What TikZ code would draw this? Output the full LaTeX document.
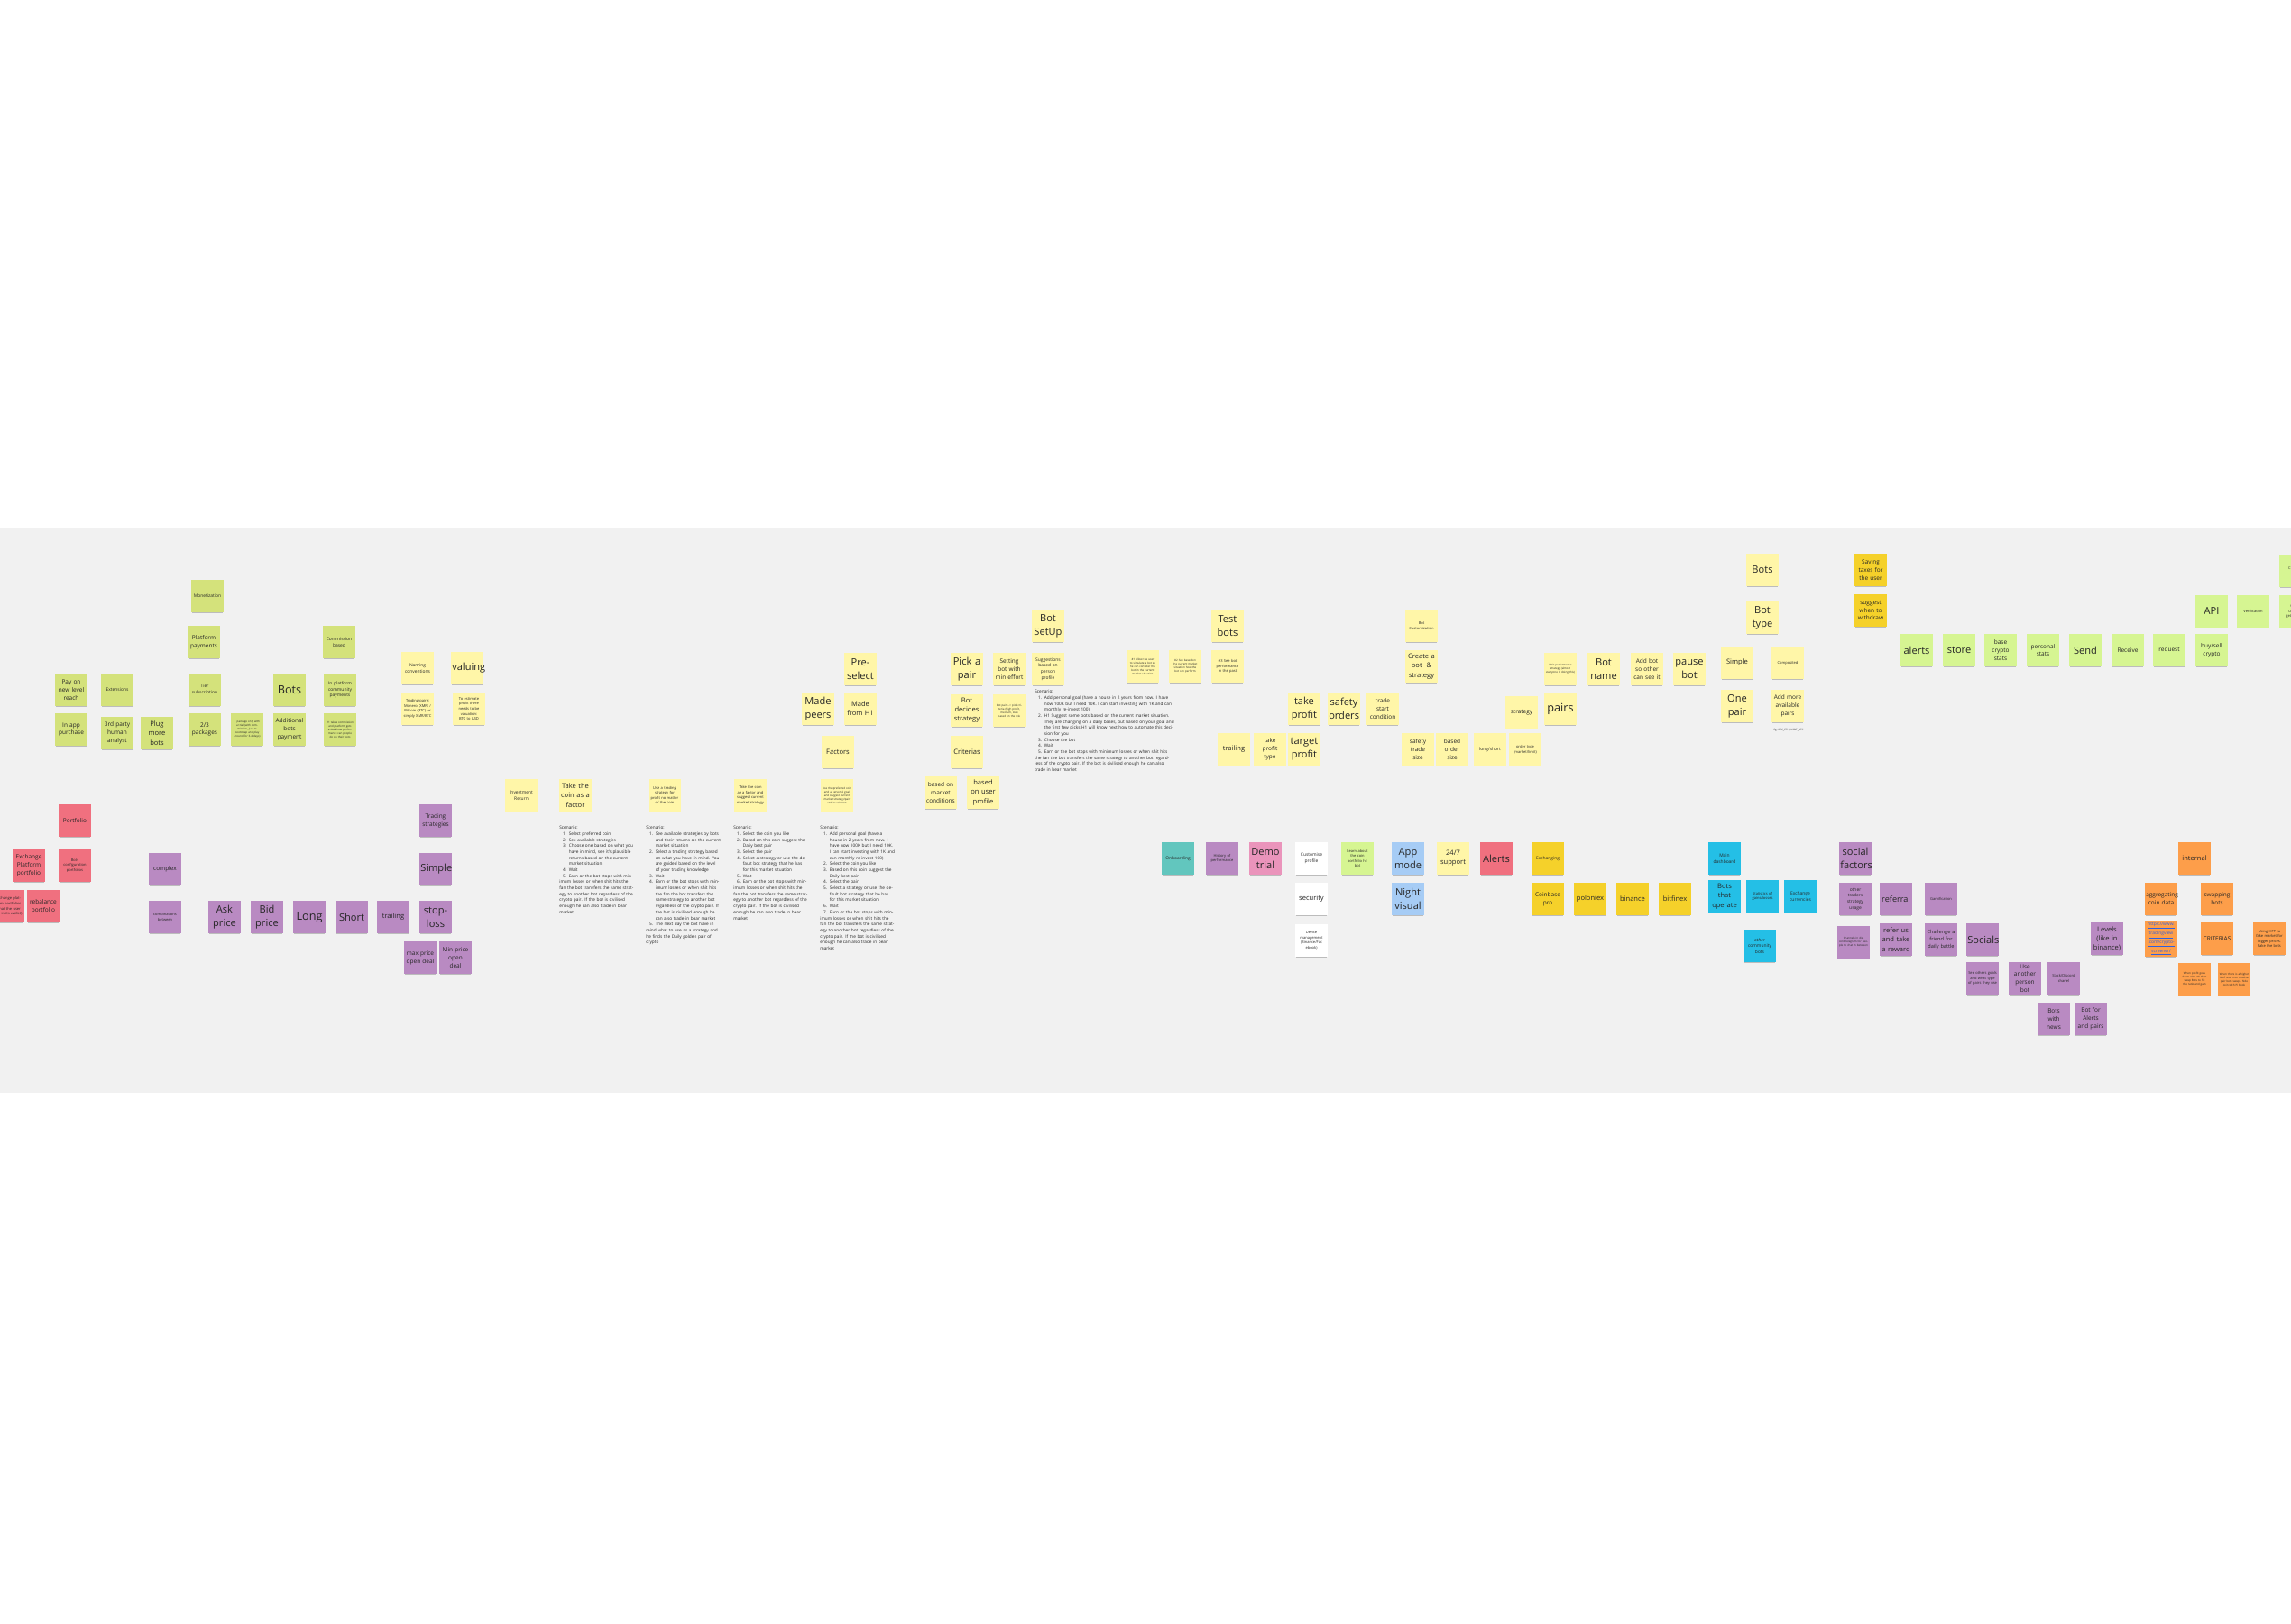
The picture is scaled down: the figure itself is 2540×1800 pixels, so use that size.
\documentclass[tikz,border=0pt]{standalone}
\usepackage{fontspec}
\setmainfont{Open Sans}
\usepackage{xcolor}
\usepackage{tikz}
\usetikzlibrary{positioning, shadows}
\definecolor{board}{HTML}{F1F1F1}
\definecolor{inkgray}{HTML}{262626}
\definecolor{olivelime}{HTML}{D4E27B}
\definecolor{freshlime}{HTML}{D6F592}
\definecolor{paleyellow}{HTML}{FFF6A8}
\definecolor{goldyellow}{HTML}{F5D12A}
\definecolor{violetnote}{HTML}{B98AC2}
\definecolor{rednote}{HTML}{F0707F}
\definecolor{pinknote}{HTML}{EA94BB}
\definecolor{tealnote}{HTML}{62C6BE}
\definecolor{bluenote}{HTML}{A6CCF5}
\definecolor{cyannote}{HTML}{24BFE6}
\definecolor{orangenote}{HTML}{FD9E4A}
\definecolor{linkblue}{HTML}{2F5FE0}
\newcommand{\scitem}[2]{\par\hangindent=2.1mm\hangafter=1\noindent\makebox[2.1mm][r]{#1.\hspace{0.55mm}}#2}
\tikzset{
    note/.style={
        rectangle,
        draw=none,
        minimum width=7.3mm,
        minimum height=7.3mm,
        text width=6.7mm,
        inner sep=0.3mm,
        align=center,
        text=inkgray,
        drop shadow={shadow xshift=0mm, shadow yshift=-0.45mm, shadow scale=0.93, opacity=0.22, fill=black}
    },
    olive/.style={note, fill=olivelime},
    lime/.style={note, fill=freshlime},
    pale/.style={note, fill=paleyellow},
    gold/.style={note, fill=goldyellow},
    violet/.style={note, fill=violetnote},
    rednt/.style={note, fill=rednote},
    pinknt/.style={note, fill=pinknote},
    tealnt/.style={note, fill=tealnote},
    bluent/.style={note, fill=bluenote},
    cyannt/.style={note, fill=cyannote},
    orng/.style={note, fill=orangenote},
    whitent/.style={note, fill=white},
    fhuge/.style={font=\fontsize{7.2}{9.6}\selectfont},
    fbig/.style={font=\fontsize{6.3}{8.6}\selectfont},
    fmidl/.style={font=\fontsize{4.3}{5.8}\selectfont},
    fmid/.style={font=\fontsize{3.7}{5.0}\selectfont},
    fsmall/.style={font=\fontsize{2.8}{3.8}\selectfont},
    fxs/.style={font=\fontsize{2.3}{3.2}\selectfont},
    ftiny/.style={font=\fontsize{1.7}{2.3}\selectfont},
    scen/.style={
        anchor=north west,
        inner sep=0pt,
        text width=16.6mm,
        align=left,
        text=inkgray,
        font=\fontsize{2.7}{3.8}\selectfont
    }
}

\begin{document}
\begin{tikzpicture}[x=0.2mm, y=-0.2mm]

\useasboundingbox (0,0) rectangle (2540,1800);
\fill[white] (0,0) rectangle (2540,1800);
\fill[board] (0,586) rectangle (2540,1212);

%---------------- Monetization ----------------

\node[olive, fsmall] (mon) at (230,661) {Monetization};
\node[olive, fmid] (platpay) at (226,712) {Platform\\payments};
\node[olive, fsmall] (commis) at (376,712) {Commission\\based};
\node[olive, fmid] (paylvl) at (79,765) {Pay on\\new level\\reach};
\node[olive, fsmall] (ext) at (130,765) {Extensions};
\node[olive, fsmall] (tier) at (227,765) {Tier\\subscription};
\node[olive, fhuge] (bots) at (321,765) {Bots};
\node[olive, fsmall] (inplat) at (377,765) {In platform\\community\\payments};
\node[olive, fmid] (inapp) at (79,809) {In app\\purchase};
\node[olive, fmid] (third) at (130,813) {3rd party\\human\\analyst};
\node[olive, fmidl] (plug) at (174,813) {Plug\\more\\bots};
\node[olive, fmid] (pack) at (227,809) {2/3\\packages};
\node[olive, ftiny] (trial) at (274,809) {1 package only with a trial (with commission, just to bootstrap and play around for 3-4 days)};
\node[olive, fmid] (addbots) at (321,809) {Additional\\bots\\payment};
\node[olive, ftiny] (h1com) at (377,809) {H1 takes commission and platform gets a deal how performance can people do on their bots};

%---------------- Naming ----------------

\node[pale, fsmall] (naming) at (463,741) {Naming\\conventions};
\node[pale, fbig] (valuing) at (518,741) {valuing};
\node[pale, fxs] (tpairs) at (463,786) {Trading pairs: Monero (XMR) / Bitcoin (BTC) or simply XMR/BTC};
\node[pale, fxs] (estim) at (520,786) {To estimate profit there needs to be valuation: BTC to USD};

%---------------- Scenarios ----------------

\node[pale, fsmall] (invret) at (578,882) {Investment\\Return};
\node[pale, fmidl] (coinfac) at (638,882) {Take the\\coin as a\\factor};
\node[pale, fxs] (usestrat) at (737,882) {Use a trading strategy for profit no matter of the coin};
\node[pale, fxs] (coinsug) at (832,882) {Take the coin as a factor and suggest current market strategy};
\node[pale, ftiny] (goalsug) at (928,882) {Use the preferred coin and a personal goal and suggest current market strategy/pair and/or reinvest};

\node[scen] (sc1) at (620,916) {Scenario:
\scitem{1}{Select preferred coin}
\scitem{2}{See available strategies}
\scitem{3}{Choose one based on what you have in mind, see it's plausible returns based on the current market situation}
\scitem{4}{Wait}
\scitem{5}{Earn or the bot stops with minimum losses or when shit hits the fan the bot transfers the same strategy to another bot regardless of the crypto pair. If the bot is civilised enough he can also trade in bear market}};

\node[scen] (sc2) at (716,916) {Scenario:
\scitem{1}{See available strategies by bots and their returns on the current market situation}
\scitem{2}{Select a trading strategy based on what you have in mind. You are guided based on the level of your trading knowledge}
\scitem{3}{Wait}
\scitem{4}{Earn or the bot stops with minimum losses or when shit hits the fan the bot transfers the same strategy to another bot regardless of the crypto pair. If the bot is civilised enough he can also trade in bear market}
\scitem{5}{The next day the bot have in mind what to use as a strategy and he finds the Daily golden pair of crypto}};

\node[scen] (sc3) at (813,916) {Scenario:
\scitem{1}{Select the coin you like}
\scitem{2}{Based on this coin suggest the Daily best pair}
\scitem{3}{Select the pair}
\scitem{4}{Select a strategy or use the default bot strategy that he has for this market situation}
\scitem{5}{Wait}
\scitem{6}{Earn or the bot stops with minimum losses or when shit hits the fan the bot transfers the same strategy to another bot regardless of the crypto pair. If the bot is civilised enough he can also trade in bear market}};

\node[scen] (sc4) at (909,916) {Scenario:
\scitem{1}{Add personal goal (have a house in 2 years from now. I have now 100K but I need 10K. I can start investing with 1K and can monthly re-invest 100)}
\scitem{2}{Select the coin you like}
\scitem{3}{Based on this coin suggest the Daily best pair}
\scitem{4}{Select the pair}
\scitem{5}{Select a strategy or use the default bot strategy that he has for this market situation}
\scitem{6}{Wait}
\scitem{7}{Earn or the bot stops with minimum losses or when shit hits the fan the bot transfers the same strategy to another bot regardless of the crypto pair. If the bot is civilised enough he can also trade in bear market}};

%---------------- Pre-select ----------------

\node[pale, fbig] (presel) at (954,742) {Pre-\\select};
\node[pale, fbig] (madepeers) at (907,786) {Made\\peers};
\node[pale, fmidl] (madeh1) at (954,786) {Made\\from H1};
\node[pale, fmidl] (factors) at (929,834) {Factors};

%---------------- Bot SetUp ----------------

\node[pale, fbig] (pickpair) at (1072,742) {Pick a\\pair};
\node[pale, fmidl] (botdec) at (1072,788) {Bot\\decides\\strategy};
\node[pale, fmidl] (crit) at (1072,834) {Criterias};
\node[pale, fmid] (mktcond) at (1043,879) {based on\\market\\conditions};
\node[pale, fmidl] (userprof) at (1090,879) {based\\on user\\profile};
\node[pale, fmid] (mineff) at (1119,742) {Setting\\bot with\\min effort};
\node[pale, ftiny] (botpairs) at (1119,788) {bot pairs -> pick criteria (high profit, medium, low) based on the risk};
\node[pale, fbig] (setup) at (1162,694) {Bot\\SetUp};
\node[pale, fsmall] (suggest) at (1162,742) {Suggestions\\based on\\person\\profile};

\node[scen, text width=31mm] (sc5) at (1147,765) {Scenario:
\scitem{1}{Add personal goal (have a house in 2 years from now. I have now 100K but I need 10K. I can start investing with 1K and can monthly re-invest 100)}
\scitem{2}{H1 Suggest some bots based on the current market situation. They are changing on a daily bases, but based on your goal and the first few picks H1 will know next how to automate this decision for you}
\scitem{3}{Choose the bot}
\scitem{4}{Wait}
\scitem{5}{Earn or the bot stops with minimum losses or when shit hits the fan the bot transfers the same strategy to another bot regardless of the crypto pair. If the bot is civilised enough he can also trade in bear market}};

%---------------- Test bots ----------------

\node[pale, ftiny] (sim1) at (1267,739) {\#1 Allow the user to simulate a bot so he can consider the bot in the current market situation};
\node[pale, ftiny] (sim2) at (1314,739) {\#2 See based on the current market situation how the bot can perform};
\node[pale, fbig] (testbots) at (1361,694) {Test\\bots};
\node[pale, fxs] (sim3) at (1361,739) {\#3 See bot performance in the past};

%---------------- Bot customization ----------------

\node[pale, fxs] (custom) at (1576,694) {Bot\\Customization};
\node[pale, fmidl] (create) at (1576,739) {Create a\\bot \ \&\\strategy};
\node[pale, fbig] (takeprof) at (1446,786) {take\\profit};
\node[pale, fbig] (safety) at (1490,786) {safety\\orders};
\node[pale, fmid] (tradestart) at (1533,786) {trade\\start\\condition};
\node[pale, fmidl] (trail) at (1368,831) {trailing};
\node[pale, fmid] (tptype) at (1408,831) {take\\profit\\type};
\node[pale, fbig] (target) at (1446,831) {target\\profit};
\node[pale, fmid] (safesize) at (1572,831) {safety\\trade\\size};
\node[pale, fmid] (basesize) at (1610,831) {based\\order\\size};
\node[pale, fsmall] (longshort) at (1652,831) {long/short};
\node[pale, fxs] (ordtype) at (1691,831) {order type\\(market/limit)};
\node[pale, fmid] (strategy) at (1687,790) {strategy};
\node[pale, fhuge] (pairs) at (1730,786) {pairs};
\node[pale, ftiny] (unitperf) at (1730,742) {Unit performance strategy (almost everyone is doing this)};
\node[pale, fbig] (botname) at (1778,742) {Bot\\name};
\node[pale, fmid] (addbot) at (1826,742) {Add bot\\so other\\can see it};
\node[pale, fbig] (pause) at (1873,742) {pause\\bot};

%---------------- Bot type ----------------

\node[pale, fbig] (topbots) at (1954,632) {Bots};
\node[pale, fbig] (bottype) at (1954,685) {Bot\\type};
\node[pale, fmidl] (simple) at (1926,735) {Simple};
\node[pale, fxs] (compos) at (1982,735) {Composited};
\node[pale, fbig] (onepair) at (1926,783) {One\\pair};
\node[pale, fmid] (morepairs) at (1982,783) {Add more\\available\\pairs};
\node[ftiny, text=inkgray, inner sep=0pt] (egpairs) at (1983,810) {Eg: BTC\_ETH, USDT\_BTC};

\node[gold, fmid] (taxes) at (2074,632) {Saving\\taxes for\\the user};
\node[gold, fmid] (withdraw) at (2074,677) {suggest\\when to\\withdraw};

%---------------- Wallet ----------------

\node[lime, fbig] (alerts) at (2125,721) {alerts};
\node[lime, fbig] (store) at (2172,721) {store};
\node[lime, fmid] (basestats) at (2218,721) {base\\crypto\\stats};
\node[lime, fmid] (perstats) at (2265,721) {personal\\stats};
\node[lime, fbig] (send) at (2312,721) {Send};
\node[lime, fmid] (receive) at (2359,721) {Receive};
\node[lime, fmid] (request) at (2405,721) {request};
\node[lime, fmid] (buysell) at (2452,721) {buy/sell\\crypto};
\node[lime, fbig] (api) at (2452,678) {API};
\node[lime, fxs] (verif) at (2498,678) {Verification};
\node[lime, fxs] (connect) at (2545,633) {Connect\\coins};
\node[lime, fxs] (guide) at (2545,678) {Guide\\users to\\get verified};

%---------------- Portfolio ----------------

\node[rednt, fmid] (portf) at (83,910) {Portfolio};
\node[rednt, fmid] (expf) at (32,960) {Exchange\\Platform\\portfolio};
\node[rednt, fxs] (botcfg) at (83,960) {Bots\\configuration\\portfolios};
\node[rednt, fxs] (exwal) at (9,1005) {Exchange platform portfolios (what the user has in its wallet)};
\node[rednt, fmid] (rebal) at (48,1005) {rebalance\\portfolio};

%---------------- Trading strategies ----------------

\node[violet, fmid] (complex) at (183,964) {complex};
\node[violet, fxs] (combi) at (183,1017) {combinations\\between};
\node[violet, fbig] (ask) at (249,1017) {Ask\\price};
\node[violet, fbig] (bid) at (296,1017) {Bid\\price};
\node[violet, fhuge] (long) at (343,1017) {Long};
\node[violet, fbig] (short) at (390,1017) {Short};
\node[violet, fmidl] (ptrail) at (436,1017) {trailing};
\node[violet, fmid] (tstrat) at (483,910) {Trading\\strategies};
\node[violet, fbig] (psimple) at (483,964) {Simple};
\node[violet, fbig] (stoploss) at (483,1017) {stop-\\loss};
\node[violet, fmid] (maxp) at (466,1062) {max price\\open deal};
\node[violet, fmid] (minp) at (505,1062) {Min price\\open\\deal};

%---------------- Onboarding ----------------

\node[tealnt, fsmall] (onb) at (1306,952) {Onboarding};
\node[violet, fxs] (hist) at (1355,952) {History of\\performance};
\node[pinknt, fbig] (demo) at (1403,952) {Demo\\trial};
\node[whitent, fsmall] (cprof) at (1454,952) {Customise\\profile};
\node[whitent, fmidl] (secur) at (1454,997) {security};
\node[whitent, fxs] (device) at (1454,1043) {Device\\management\\(Binance/Fac\\ebook)};
\node[lime, fxs] (learn) at (1505,952) {Learn about\\the coin\\portfolio h1\\bot};
\node[bluent, fbig] (appmode) at (1561,952) {App\\mode};
\node[bluent, fbig] (night) at (1561,997) {Night\\visual};
\node[pale, fmidl] (support) at (1611,952) {24/7\\support};
\node[rednt, fbig] (alerts2) at (1659,952) {Alerts};

%---------------- Exchanging ----------------

\node[gold, fsmall] (exch) at (1716,952) {Exchanging};
\node[gold, fmid] (coinb) at (1716,997) {Coinbase\\pro};
\node[gold, fmidl] (polo) at (1763,997) {poloniex};
\node[gold, fmidl] (binance) at (1810,997) {binance};
\node[gold, fmidl] (bitfin) at (1857,997) {bitfinex};

%---------------- Dashboard ----------------

\node[cyannt, fsmall] (dash) at (1912,952) {Main\\dashboard};
\node[cyannt, fmidl] (botsop) at (1912,994) {Bots\\that\\operate};
\node[cyannt, fxs] (stats) at (1954,994) {Statistics of\\gains/losses};
\node[cyannt, fsmall] (excur) at (1996,994) {Exchange\\currencies};
\node[cyannt, fsmall] (othbots) at (1951,1049) {\textit{other}\\community\\bots};

%---------------- Social ----------------

\node[violet, fbig] (socf) at (2057,952) {social\\factors};
\node[violet, fsmall] (othtr) at (2057,997) {other\\traders\\strategy\\usage};
\node[violet, font=\fontsize{5.2}{7}\selectfont] (refer) at (2102,997) {referral};
\node[violet, ftiny] (chan) at (2055,1045) {Channels in discord/telegram for people to chat in between};
\node[violet, fmidl] (referus) at (2102,1042) {refer us\\and take\\a reward};
\node[violet, fxs] (gamif) at (2152,997) {Gamification};
\node[violet, font=\fontsize{3.2}{4.5}\selectfont] (chall) at (2152,1042) {Challenge a\\friend for\\daily battle};
\node[violet, fbig] (socials) at (2198,1042) {Socials};
\node[violet, fxs] (seeoth) at (2198,1085) {See others goals and what type of pairs they use};
\node[violet, fmid] (useanoth) at (2245,1085) {Use\\another\\person bot};
\node[violet, fxs] (slack) at (2288,1085) {Slack/Discord\\chanel};
\node[violet, fmid] (botnews) at (2277,1130) {Bots\\with\\news};
\node[violet, fmid] (botalert) at (2318,1130) {Bot for\\Alerts\\and pairs};
\node[violet, fmidl] (levels) at (2336,1041) {Levels\\(like in\\binance)};

%---------------- Internal ----------------

\node[orng, fmidl] (internal) at (2433,952) {internal};
\node[orng, fmid] (aggr) at (2396,997) {aggregating\\coin data};
\node[orng, fmid] (swap) at (2458,997) {swapping\\bots};
\node[orng, fsmall, text=linkblue] (link) at (2396,1041) {\underline{https://www.}\\\underline{tradingview}\\\underline{.com/crypto-}\\\underline{screener/}};
\node[orng, fmid] (critx) at (2458,1041) {CRITERIAS};
\node[orng, fxs] (hft) at (2516,1041) {Using HFT to fake market for bigger prices. Fake the bots};
\node[orng, ftiny] (whenp) at (2433,1086) {When profit goes down with x\% then swap Bots to fix the ratio and gain};
\node[orng, ftiny] (whenr) at (2477,1086) {When there is a higher \% of return on another pair bots swap - hide coin with Pi Book};

\end{tikzpicture}
\end{document}
